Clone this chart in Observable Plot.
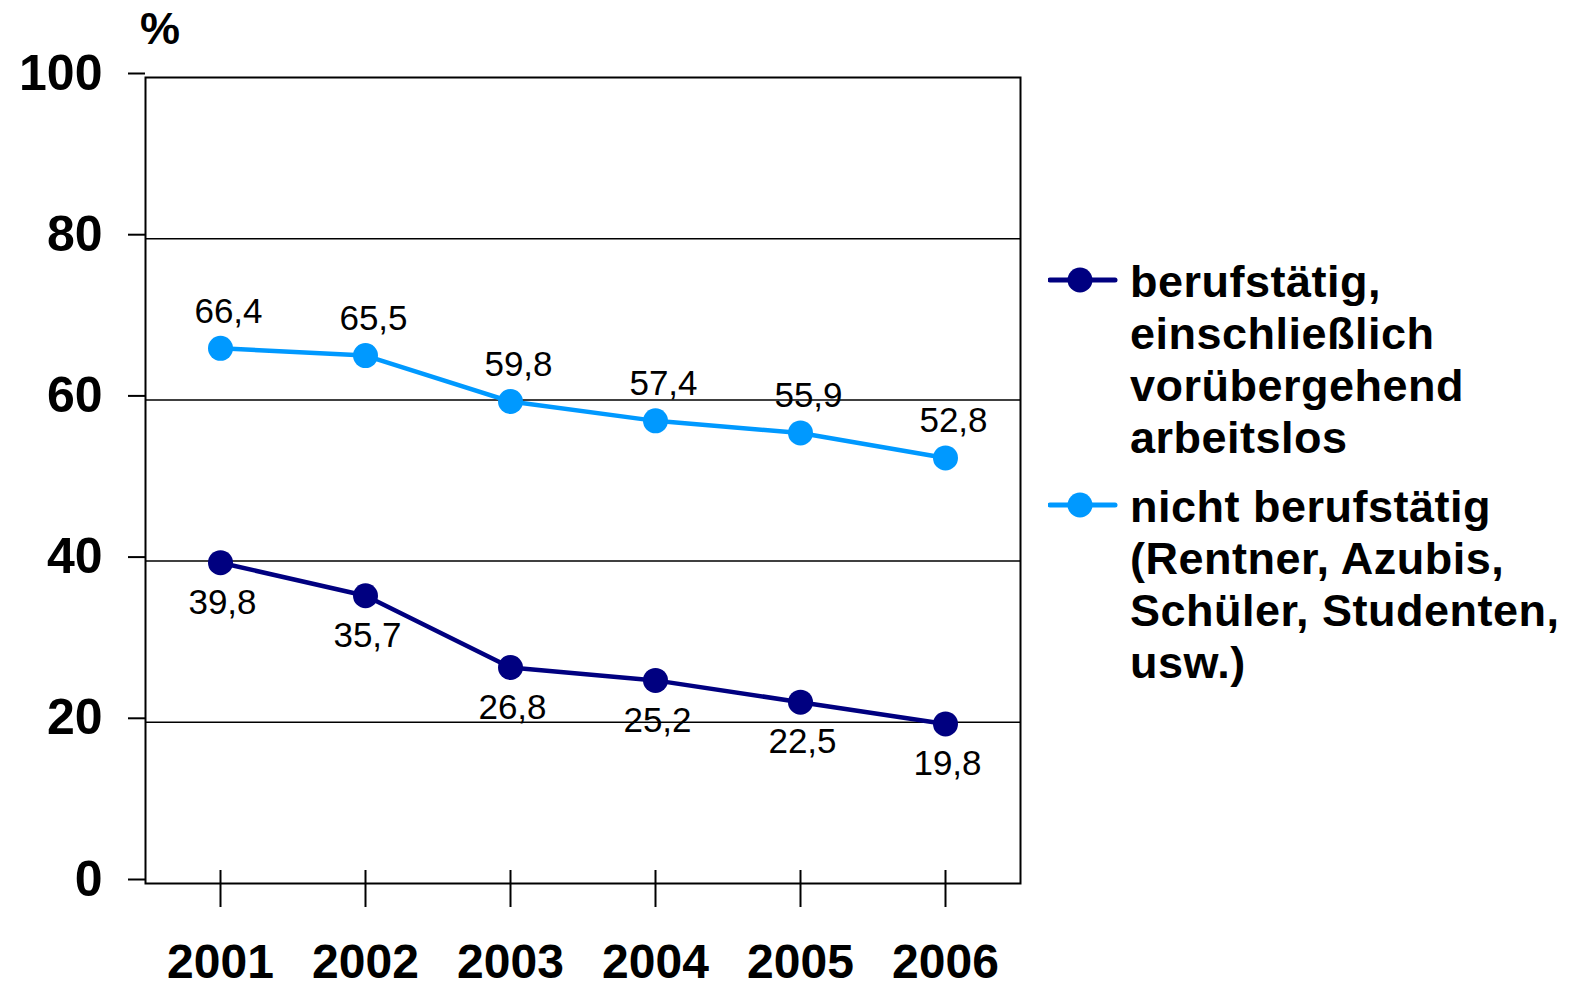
<!DOCTYPE html>
<html>
<head>
<meta charset="utf-8">
<script src="https://cdn.jsdelivr.net/npm/d3@7"></script>
<script src="https://cdn.jsdelivr.net/npm/@observablehq/plot@0.6"></script>
<style>
  html, body { margin: 0; padding: 0; background: #fff; }
  #wrap { position: relative; width: 1573px; height: 988px; font-family: "Liberation Sans", Arial, sans-serif; }
  #chart svg { display: block; }
  .unit { position: absolute; left: 140px; top: 3px; font-size: 45px; font-weight: bold; }
  .leg { position: absolute; left: 1048px; font-size: 45px; font-weight: bold; line-height: 52px; color: #000; letter-spacing: 0.5px; }
  .leg svg { position: absolute; left: 0; }
  .leg .txt { margin-left: 82px; white-space: nowrap; }
</style>
</head>
<body>
<div id="wrap">
  <div id="chart"></div>
  <div class="unit">%</div>
</div>
<script>
const years = ["2001", "2002", "2003", "2004", "2005", "2006"];
const berufstaetig = [39.8, 35.7, 26.8, 25.2, 22.5, 19.8];
const nichtBerufstaetig = [66.4, 65.5, 59.8, 57.4, 55.9, 52.8];
const yTicks = [0, 20, 40, 60, 80, 100];
const seriesNames = [
  ["berufstätig,", "einschließlich", "vorübergehend", "arbeitslos"],
  ["nicht berufstätig", "(Rentner, Azubis,", "Schüler, Studenten,", "usw.)"]
];
const colors = ["#000080", "#0099ff"];

const dark = years.map((y, i) => ({year: y, value: berufstaetig[i]}));
const light = years.map((y, i) => ({year: y, value: nichtBerufstaetig[i]}));
const fmt = d => d.toFixed(1).replace(".", ",");

const chart = Plot.plot({
  width: 1573,
  height: 988,
  marginLeft: 145,
  marginRight: 553,
  marginTop: 77,
  marginBottom: 105,
  style: {fontFamily: "'Liberation Sans', Arial, sans-serif", background: "#fff", color: "#000"},
  x: {type: "point", domain: years, padding: 0.5, label: null},
  y: {domain: [0, 100], label: null},
  marks: [
    Plot.gridY([20, 40, 60, 80], {stroke: "#000", strokeOpacity: 1, strokeWidth: 1.5}),
    Plot.frame({stroke: "#000", strokeWidth: 2}),
    Plot.axisY(yTicks, {tickSize: 17, tickPadding: 26, fontSize: 50, fontWeight: "bold", strokeWidth: 2, dy: -4, label: null}),
    Plot.axisX({tickSize: 37, dy: -13, tickFormat: () => "", strokeWidth: 2, label: null}),
    Plot.axisX({tickSize: 0, tickPadding: 60, fontSize: 48, fontWeight: "bold", label: null}),
    Plot.line(light, {x: "year", y: "value", stroke: colors[1], strokeWidth: 4.5}),
    Plot.line(dark, {x: "year", y: "value", stroke: colors[0], strokeWidth: 4.5}),
    Plot.dot(light, {x: "year", y: "value", r: 12.5, fill: colors[1]}),
    Plot.dot(dark, {x: "year", y: "value", r: 12.5, fill: colors[0]}),
    Plot.text(light, {x: "year", y: "value", text: d => fmt(d.value), dx: 8, dy: -37, fontSize: 35, fill: "#000"}),
    Plot.text(dark, {x: "year", y: "value", text: d => fmt(d.value), dx: 2, dy: 40, fontSize: 35, fill: "#000"})
  ]
});
document.getElementById("chart").appendChild(chart);

// Legend
const wrap = document.getElementById("wrap");
const legTops = [256, 481];
seriesNames.forEach((lines, i) => {
  const div = document.createElement("div");
  div.className = "leg";
  div.style.top = legTops[i] + "px";
  div.innerHTML = `<svg width="70" height="52" style="top:0">
      <line x1="2" x2="67" y1="24" y2="24" stroke="${colors[i]}" stroke-width="5" stroke-linecap="round"/>
      <circle cx="32" cy="24" r="12.5" fill="${colors[i]}"/>
    </svg>` + lines.map(l => `<div class="txt">${l}</div>`).join("");
  wrap.appendChild(div);
});
</script>
</body>
</html>
